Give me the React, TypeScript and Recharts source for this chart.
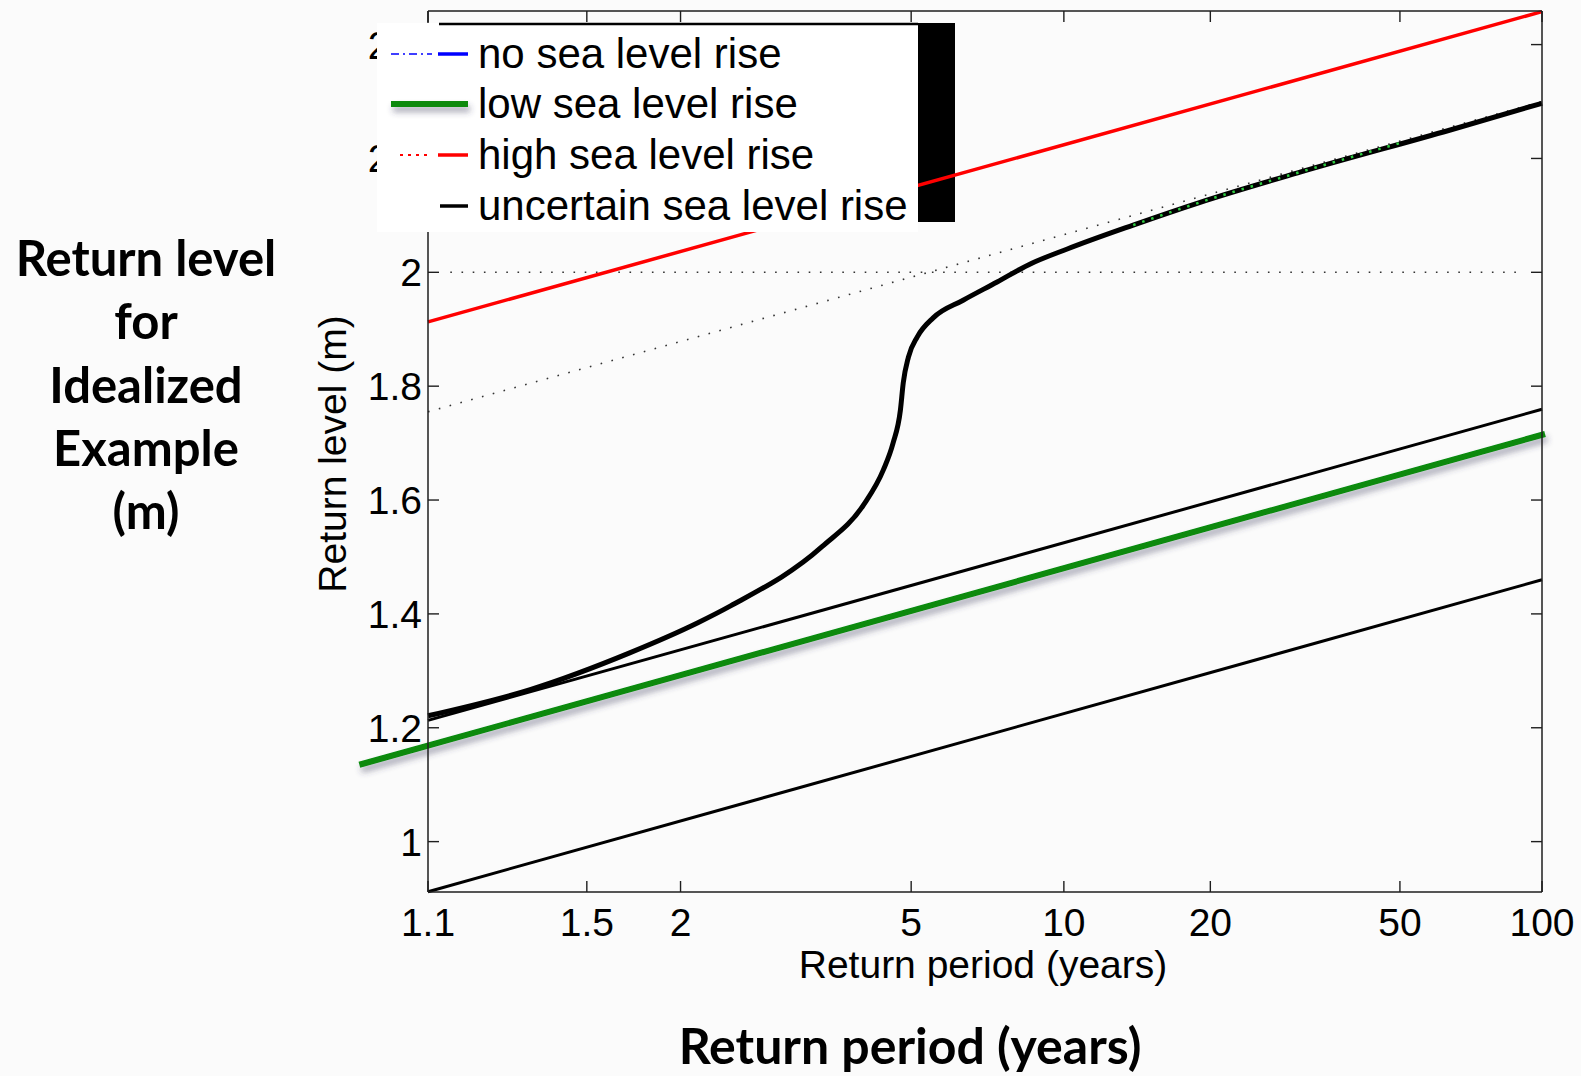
import React from 'react';
import { LineChart, Line, XAxis, YAxis, ReferenceLine } from 'recharts';

const W = 1581;
const H = 1076;

// return periods (years) and return levels (m)
const uncertainPeriods = [1.1, 1.306, 1.7, 2.12, 2.39, 3.42, 4.07, 4.43, 4.62, 4.77, 4.83, 4.94, 5.14, 5.51, 6.3, 7.35, 8.48, 10.16, 13.85, 19.05, 30.8, 63.9, 100];
const uncertainLevels = [1.221, 1.267, 1.332, 1.384, 1.414, 1.518, 1.5915, 1.653, 1.7, 1.758, 1.806, 1.851, 1.887, 1.92, 1.951, 1.983, 2.013, 2.041, 2.083, 2.123, 2.176, 2.25, 2.297];

const upperPeriods = [1.1, 100];
const upperLevels = [1.213, 1.7595];

const noRisePeriods = [1.1, 100];
const noRiseLevels = [0.912, 1.46];

const highPeriods = [1.1, 100];
const highLevels = [1.913, 2.458];

// the thick green one runs past both axes
const lowPeriods = [1.036, 101.5];
const lowLevels = [1.135, 1.716];

const lowDotPeriods = [13.85, 19.05, 30.8, 50];
const lowDotLevels = [2.083, 2.123, 2.176, 2.227];

const asymptotePeriods = [1.1, 100];
const asymptoteLevels = [1.755, 2.3];

const thresholdPeriods = [1.132, 90.7];
const thresholdLevels = [2, 2];

const xTickPeriods = [1.1, 1.5, 2, 5, 10, 20, 50, 100];
const xTickLabels = ['1.1', '1.5', '2', '5', '10', '20', '50', '100'];
const yTicks = [1, 1.2, 1.4, 1.6, 1.8, 2, 2.2, 2.4];
const yTickLabels = ['1', '1.2', '1.4', '1.6', '1.8', '2', '2.2', '2.4'];
const yDomain = [0.9115, 2.459];

const legendNames = ['no sea level rise', 'low sea level rise', 'high sea level rise', 'uncertain sea level rise'];
const legendColors = ['#0000ff', '#078a07', '#ff0000', '#000000'];

// axis is linear in the Gumbel reduced variate
const gumbel = (t: number) => -Math.log(-Math.log(1 - 1 / t));
const pts = (periods: number[], levels: number[]) => periods.map((t, i) => ({ x: gumbel(t), y: levels[i] }));

const xTicks = xTickPeriods.map(gumbel);
const xDomain = [gumbel(1.1), gumbel(100)];

const FONT = '"Liberation Sans", Arial, Helvetica, sans-serif';
const BOLD = 'Lato, "Open Sans", sans-serif';
const AX = '#1e1e1e';
const TL = 11;

function BottomTick(props: any) {
    const { x, y, index } = props;
    const axisY = y - 16;
    return (
        <g>
            <line x1={x} x2={x} y1={axisY} y2={axisY - TL} stroke={AX} strokeWidth={1.4} />
            <text x={x} y={y} dy="0.71em" textAnchor="middle" fontSize={39} fontFamily={FONT} fill="#000">
                {xTickLabels[index]}
            </text>
        </g>
    );
}

function LeftTick(props: any) {
    const { x, y, index } = props;
    const axisX = x + 6;
    return (
        <g>
            <line x1={axisX} x2={axisX + TL} y1={y} y2={y} stroke={AX} strokeWidth={1.4} />
            <text x={x} y={y} dy="0.36em" textAnchor="end" fontSize={39} fontFamily={FONT} fill="#000">
                {yTickLabels[index]}
            </text>
        </g>
    );
}

function TopTick(props: any) {
    const { x, y } = props;
    return <line x1={x} x2={x} y1={y} y2={y + TL} stroke={AX} strokeWidth={1.4} />;
}

function RightTick(props: any) {
    const { x, y } = props;
    return <line x1={x - TL} x2={x} y1={y} y2={y} stroke={AX} strokeWidth={1.4} />;
}

export default function App() {
    const rowY = [54, 104, 155, 206];
    return (
        <div style={{ position: 'absolute', left: 0, top: 0, width: W, height: H, background: '#fbfbfb', overflow: 'hidden' }}>
            <div style={{ position: 'absolute', left: 918, top: 23, width: 37, height: 199, background: '#000' }} />
            <div style={{ position: 'absolute', left: 0, top: 0 }}>
                <LineChart width={W} height={H} margin={{ top: 10, right: 38, bottom: 144, left: 368 }}>
                    <XAxis
                        dataKey="x"
                        type="number"
                        domain={xDomain}
                        ticks={xTicks}
                        interval={0}
                        height={40}
                        tickSize={0}
                        tickMargin={16}
                        tick={<BottomTick />}
                        axisLine={{ stroke: AX, strokeWidth: 1.5 }}
                        tickLine={false}
                    />
                    <XAxis
                        xAxisId="top"
                        orientation="top"
                        dataKey="x"
                        type="number"
                        domain={xDomain}
                        allowDataOverflow
                        ticks={xTicks}
                        interval={0}
                        height={1}
                        tickSize={0}
                        tickMargin={0}
                        tick={<TopTick />}
                        axisLine={{ stroke: AX, strokeWidth: 1.5 }}
                        tickLine={false}
                    />
                    <YAxis
                        type="number"
                        domain={yDomain}
                        ticks={yTicks}
                        interval={0}
                        width={60}
                        tickSize={0}
                        tickMargin={6}
                        tick={<LeftTick />}
                        axisLine={{ stroke: AX, strokeWidth: 1.5 }}
                        tickLine={false}
                    />
                    <YAxis
                        yAxisId="right"
                        orientation="right"
                        type="number"
                        domain={yDomain}
                        allowDataOverflow
                        ticks={yTicks}
                        interval={0}
                        width={1}
                        tickSize={0}
                        tickMargin={0}
                        tick={<RightTick />}
                        axisLine={{ stroke: AX, strokeWidth: 1.5 }}
                        tickLine={false}
                    />

                    {/* carries the top/right frame axes, draws nothing */}
                    <Line xAxisId="top" yAxisId="right" data={pts(highPeriods, highLevels)} dataKey="y" stroke="none" dot={false} activeDot={false} legendType="none" isAnimationActive={false} />

                    <Line data={pts(thresholdPeriods, thresholdLevels)} dataKey="y" type="linear" stroke="#333" strokeWidth={1.6} strokeDasharray="1.6 9.6" dot={false} activeDot={false} isAnimationActive={false} />
                    <Line data={pts(asymptotePeriods, asymptoteLevels)} dataKey="y" type="linear" stroke="#333" strokeWidth={1.6} strokeDasharray="1.6 9.6" dot={false} activeDot={false} isAnimationActive={false} />
                    <Line data={pts(noRisePeriods, noRiseLevels)} dataKey="y" type="linear" stroke="#000" strokeWidth={3} dot={false} activeDot={false} isAnimationActive={false} />
                    <Line data={pts(upperPeriods, upperLevels)} dataKey="y" type="linear" stroke="#000" strokeWidth={3} dot={false} activeDot={false} isAnimationActive={false} />
                    <Line data={pts(highPeriods, highLevels)} dataKey="y" type="linear" stroke="#ff0000" strokeWidth={3.5} dot={false} activeDot={false} isAnimationActive={false} />
                    <Line data={pts(uncertainPeriods, uncertainLevels)} dataKey="y" type="monotone" stroke="#000" strokeWidth={5} dot={false} activeDot={false} isAnimationActive={false} />
                    <Line data={pts(lowDotPeriods, lowDotLevels)} dataKey="y" type="monotone" stroke="#2ecc40" strokeWidth={2.5} strokeDasharray="2.5 7" dot={false} activeDot={false} isAnimationActive={false} />
                    <ReferenceLine
                        segment={[
                            { x: gumbel(lowPeriods[0]), y: lowLevels[0] },
                            { x: gumbel(lowPeriods[1]), y: lowLevels[1] },
                        ]}
                        ifOverflow="visible"
                        stroke={legendColors[1]}
                        strokeWidth={6}
                        filter="url(#lowShadow)"
                    />
                </LineChart>
            </div>
            <svg width={W} height={H} style={{ position: 'absolute', left: 0, top: 0, pointerEvents: 'none' }}>
                <defs>
                    <filter id="lowShadow" filterUnits="userSpaceOnUse" x={0} y={0} width={W} height={H}>
                        <feDropShadow dx="2" dy="5" stdDeviation="3" floodColor="#3a3a5a" floodOpacity="0.45" />
                    </filter>
                </defs>

                {/* legend box */}
                <rect x={377} y={23} width={541} height={209} fill="#fff" />
                <line x1={439} x2={918} y1={24} y2={24} stroke="#000" strokeWidth={2.5} />
                <line x1={391} x2={432} y1={rowY[0]} y2={rowY[0]} stroke={legendColors[0]} strokeWidth={1.5} strokeDasharray="8 4 2 4" />
                <line x1={438} x2={468} y1={rowY[0]} y2={rowY[0]} stroke={legendColors[0]} strokeWidth={3.5} />
                <line x1={391} x2={468} y1={rowY[1]} y2={rowY[1]} stroke={legendColors[1]} strokeWidth={6} filter="url(#lowShadow)" />
                <line x1={400} x2={432} y1={rowY[2]} y2={rowY[2]} stroke={legendColors[2]} strokeWidth={2} strokeDasharray="3 5" />
                <line x1={438} x2={468} y1={rowY[2]} y2={rowY[2]} stroke={legendColors[2]} strokeWidth={3.5} />
                <line x1={440} x2={468} y1={rowY[3]} y2={rowY[3]} stroke={legendColors[3]} strokeWidth={3.5} />
                {legendNames.map((n, i) => (
                    <text key={n} x={478} y={rowY[i]} dy="0.33em" fontSize={42} fontFamily={FONT} fill="#000">
                        {n}
                    </text>
                ))}

                {/* axis titles */}
                <text x={983} y={965} dy="0.33em" textAnchor="middle" fontSize={39} fontFamily={FONT} fill="#000">
                    Return period (years)
                </text>
                <text x={333} y={454} dy="0.33em" textAnchor="middle" fontSize={39} fontFamily={FONT} fill="#000" transform="rotate(-90 333 454)">
                    Return level (m)
                </text>

                {/* slide captions */}
                {['Return level', 'for', 'Idealized', 'Example', '(m)'].map((s, i) => (
                    <text key={s} x={146} y={259 + i * 63.2} dy="0.35em" textAnchor="middle" fontSize={49} fontWeight={700} fontFamily={BOLD} fill="#000">
                        {s}
                    </text>
                ))}
                <text x={910} y={1064} textAnchor="middle" fontSize={50} fontWeight={700} fontFamily={BOLD} fill="#000">
                    Return period (years)
                </text>
            </svg>
        </div>
    );
}
